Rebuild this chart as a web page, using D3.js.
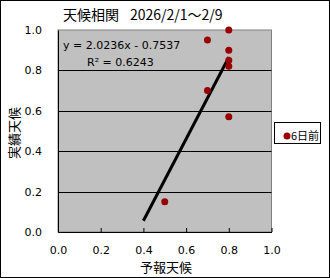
<!DOCTYPE html>
<html>
<head>
<meta charset="utf-8">
<script src="https://cdn.jsdelivr.net/npm/d3@7"></script>
<style>
body { margin: 0; background: #fff; }
text { font-family: "Noto Sans CJK JP", "DejaVu Sans", sans-serif; fill: #000; }
</style>
</head>
<body>
<svg id="chart"></svg>
<script>
// 予報と実績のデータ
var forecast = [0.8, 0.8, 0.8, 0.8, 0.7, 0.7, 0.8, 0.5];
var actual = [1.0, 0.9, 0.85, 0.82, 0.95, 0.7, 0.57, 0.15];
var ticks = [0, 0.2, 0.4, 0.6, 0.8, 1.0];
var trendSlope = 2.0236, trendIntercept = -0.7537, trendR2 = 0.6243;
var trendRange = [0.4, 0.8];
var seriesName = '6日前';

var W = 330, H = 278;
var svg = d3.select('#chart').attr('width', W).attr('height', H);

// 外枠
svg.append('rect').attr('x', 0.5).attr('y', 0.5).attr('width', W - 1).attr('height', H - 1)
    .attr('fill', '#fff').attr('stroke', '#000');

var xScale = d3.scaleLinear().domain([0, 1]).range([58, 271.5]);
var yScale = d3.scaleLinear().domain([0, 1]).range([232, 30]);

// プロットエリア
svg.append('rect').attr('x', xScale(0)).attr('y', yScale(1))
    .attr('width', xScale(1) - xScale(0)).attr('height', yScale(0) - yScale(1))
    .attr('fill', '#c0c0c0').attr('stroke', '#808080');

// グリッド線
svg.selectAll('line.grid').data(ticks.slice(1, -1)).enter().append('line')
    .attr('x1', xScale(0)).attr('x2', xScale(1))
    .attr('y1', function (d) { return Math.round(yScale(d)) + 0.5; })
    .attr('y2', function (d) { return Math.round(yScale(d)) + 0.5; })
    .attr('stroke', '#000');

// 軸
var xAxis = d3.axisBottom(xScale).tickValues(ticks).tickFormat(d3.format('.1f')).tickSizeInner(-4).tickSizeOuter(0).tickPadding(12);
var gx = svg.append('g').attr('transform', 'translate(0,' + yScale(0) + ')').call(xAxis);
var yAxis = d3.axisLeft(yScale).tickValues(ticks).tickFormat(d3.format('.1f')).tickSize(0).tickPadding(16);
var gy = svg.append('g').attr('transform', 'translate(' + xScale(0) + ',0)').call(yAxis);
[gx, gy].forEach(function (g) {
    g.selectAll('text').style('font-size', '11px').style('font-family', '"DejaVu Sans", sans-serif');
    g.select('.domain').attr('stroke', '#000');
    g.selectAll('line').attr('stroke', '#000');
});
gx.selectAll('text').attr('dy', '0.9em');

// 近似曲線
var line = d3.line()
    .x(function (d) { return xScale(d); })
    .y(function (d) { return yScale(trendSlope * d + trendIntercept); });
svg.append('path').attr('d', line(trendRange))
    .attr('fill', 'none').attr('stroke', '#000').attr('stroke-width', 3);

// 点
svg.selectAll('circle.pt').data(forecast).enter().append('circle')
    .attr('cx', function (d) { return xScale(d); })
    .attr('cy', function (d, i) { return yScale(actual[i]); })
    .attr('r', 3.5).attr('fill', '#990000');

// 数式
svg.append('text').attr('x', 63).attr('y', 49).style('font-size', '11px')
    .style('font-family', '"DejaVu Sans", sans-serif')
    .text('y = ' + trendSlope.toFixed(4) + 'x - ' + Math.abs(trendIntercept).toFixed(4));
svg.append('text').attr('x', 87).attr('y', 66).style('font-size', '11px')
    .style('font-family', '"DejaVu Sans", sans-serif')
    .text('R² = ' + trendR2.toFixed(4));

// タイトル
var title = svg.append('text').attr('x', 63).attr('y', 20).style('font-size', '14px');
title.append('tspan').text('天候相関');
title.append('tspan').attr('x', 130).text('2026/2/1～2/9');

// 軸タイトル
svg.append('text').attr('x', 166).attr('y', 272).attr('text-anchor', 'middle').style('font-size', '13px')
    .text('予報天候');
svg.append('text').attr('transform', 'translate(19,133) rotate(-90)').attr('text-anchor', 'middle').style('font-size', '13px')
    .text('実績天候');

// 凡例
svg.append('rect').attr('x', 274.5).attr('y', 122.5).attr('width', 46).attr('height', 21)
    .attr('fill', '#fff').attr('stroke', '#000');
svg.append('circle').attr('cx', 287).attr('cy', 136).attr('r', 3.5).attr('fill', '#990000');
svg.append('text').attr('x', 291).attr('y', 136).attr('dy', '0.35em').style('font-size', '11px')
    .text(seriesName);
</script>
</body>
</html>
